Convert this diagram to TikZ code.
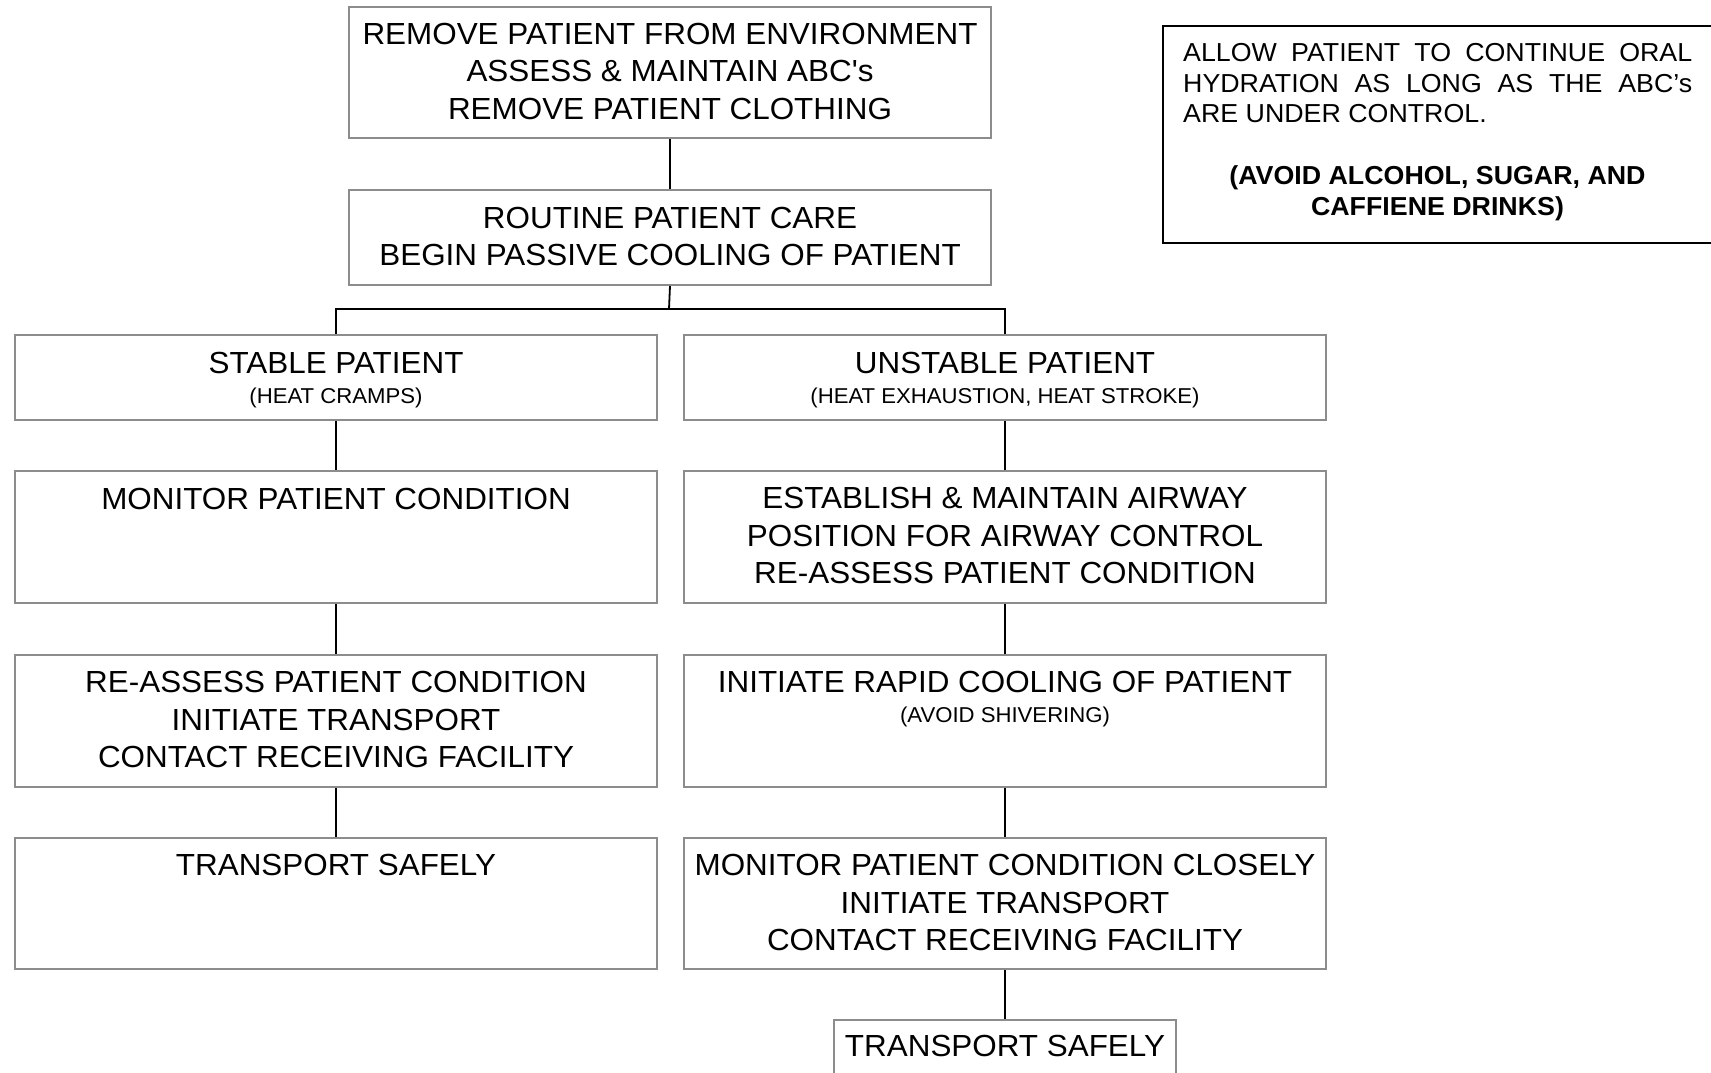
\documentclass[tikz,border=0pt]{standalone}
\usepackage{fontspec}
\setmainfont{Liberation Sans}[Ligatures=TeXOff, FakeStretch=1.03]
\usetikzlibrary{calc}

\definecolor{boxgray}{HTML}{8C8C8C}
\newcommand\boxlines[1]{\begin{tabular}[t]{@{}c@{}}#1\end{tabular}}

\tikzset{
  box/.style={draw=boxgray, line width=2pt, rectangle, inner sep=0pt,
              anchor=north west, minimum width=642pt},
  notebox/.style={draw=black, line width=2pt, rectangle, inner sep=0pt,
              anchor=north west},
  wire/.style={draw=black, line width=1.8pt},
  main/.style={anchor=base, inner sep=0pt, font=\fontsize{30.5}{37.5}\selectfont},
  small/.style={anchor=base, inner sep=0pt, font=\fontsize{21.5}{26}\selectfont},
  notetext/.style={inner sep=0pt, font=\fontsize{26}{30.4}\selectfont},
}

\begin{document}
\begin{tikzpicture}[x=1pt, y=-1pt]
  \useasboundingbox (0,0) rectangle (1711,1073);
  \clip (0,0) rectangle (1711,1073);

  % first two steps
  \node[box, minimum height=131pt] (top) at (348,6) {};
  \node[main] (toptxt) at ($(top.north)+(0,38.5)$)
    {\boxlines{REMOVE PATIENT FROM ENVIRONMENT\\ASSESS \& MAINTAIN ABC's\\REMOVE PATIENT CLOTHING}};

  \node[box, minimum height=95pt] (care) at (348,189) {};
  \node[main] (caretxt) at ($(care.north)+(0,39)$)
    {\boxlines{ROUTINE PATIENT CARE\\BEGIN PASSIVE COOLING OF PATIENT}};

  % stable branch
  \node[box, minimum height=85pt] (st1) at (14,334) {};
  \node[main] (st1txt) at ($(st1.north)+(0,39)$) {STABLE PATIENT};
  \node[small] (st1sub) at ($(st1.north)+(0,69)$) {(HEAT CRAMPS)};

  \node[box, minimum height=132pt] (st2) at (14,470) {};
  \node[main] (st2txt) at ($(st2.north)+(0,39)$) {MONITOR PATIENT CONDITION};

  \node[box, minimum height=132pt] (st3) at (14,654) {};
  \node[main] (st3txt) at ($(st3.north)+(0,38.5)$)
    {\boxlines{RE-ASSESS PATIENT CONDITION\\INITIATE TRANSPORT\\CONTACT RECEIVING FACILITY}};

  \node[box, minimum height=131pt] (st4) at (14,837) {};
  \node[main] (st4txt) at ($(st4.north)+(0,38.5)$) {TRANSPORT SAFELY};

  % unstable branch
  \node[box, minimum height=85pt] (un1) at (683,334) {};
  \node[main] (un1txt) at ($(un1.north)+(0,39)$) {UNSTABLE PATIENT};
  \node[small] (un1sub) at ($(un1.north)+(0,69)$) {(HEAT EXHAUSTION, HEAT STROKE)};

  \node[box, minimum height=132pt] (un2) at (683,470) {};
  \node[main] (un2txt) at ($(un2.north)+(0,38.5)$)
    {\boxlines{ESTABLISH \& MAINTAIN AIRWAY\\POSITION FOR AIRWAY CONTROL\\RE-ASSESS PATIENT CONDITION}};

  \node[box, minimum height=132pt] (un3) at (683,654) {};
  \node[main] (un3txt) at ($(un3.north)+(0,38.5)$) {INITIATE RAPID COOLING OF PATIENT};
  \node[small] (un3sub) at ($(un3.north)+(0,68.5)$) {(AVOID SHIVERING)};

  \node[box, minimum height=131pt] (un4) at (683,837) {};
  \node[main] (un4txt) at ($(un4.north)+(0,38.5)$)
    {\boxlines{MONITOR PATIENT CONDITION CLOSELY\\INITIATE TRANSPORT\\CONTACT RECEIVING FACILITY}};

  \node[box, minimum width=342pt, minimum height=90pt] (un5) at (833,1019) {};
  \node[main] (un5txt) at ($(un5.north)+(0,37.5)$) {TRANSPORT SAFELY};

  % hydration note
  \node[notebox, minimum width=600pt, minimum height=217pt] (note) at (1162,25) {};
  \node[notetext, anchor=base west] (notetxt) at (1183,62)
    {\parbox[t]{509pt}{\tolerance=10000\hyphenpenalty=10000
      ALLOW PATIENT TO CONTINUE ORAL\linebreak
      HYDRATION AS LONG AS THE ABC’s\linebreak
      ARE UNDER CONTROL.}};
  \node[notetext, anchor=base, font=\fontsize{26}{30.4}\selectfont\bfseries] (notebold) at (1437.5,184.6)
    {\boxlines{(AVOID ALCOHOL, SUGAR, AND\\CAFFIENE DRINKS)}};

  % connectors
  \coordinate (split) at (669,309);
  \draw[wire] (top.south) -- (care.north);
  \draw[wire] (care.south) -- (split);
  \draw[wire] (st1.north) |- (split) -| (un1.north);
  \draw[wire] (st1.south) -- (st2.north);
  \draw[wire] (st2.south) -- (st3.north);
  \draw[wire] (st3.south) -- (st4.north);
  \draw[wire] (un1.south) -- (un2.north);
  \draw[wire] (un2.south) -- (un3.north);
  \draw[wire] (un3.south) -- (un4.north);
  \draw[wire] (un4.south) -- (un5.north);
\end{tikzpicture}
\end{document}
